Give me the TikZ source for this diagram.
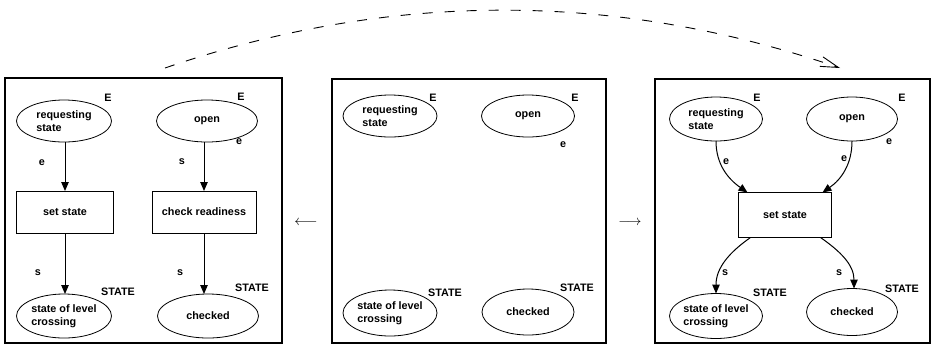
\documentclass[tikz,border=0pt]{standalone}
\usepackage{fontspec}
\newfontfamily\helv{Liberation Sans}
\usetikzlibrary{arrows.meta,shapes.geometric}
\begin{document}
\begin{tikzpicture}[x=1pt,y=-1pt,
  every node/.style={inner sep=0pt,outer sep=0pt,font=\helv\bfseries\fontsize{10.8}{12.5}\selectfont},
  place/.style={draw,ellipse,line width=0.8pt,align=left,minimum width=95pt,minimum height=42pt},
  trans/.style={draw,rectangle,line width=0.8pt,align=center,minimum height=42pt},
  panel/.style={draw,line width=1.8pt},
  flow/.style={line width=1pt,-{Triangle[length=9pt,width=7.5pt]}},
  morph/.style={line width=0.9pt,dash pattern=on 10pt off 12pt,
    -{Straight Barb[length=18pt,width=10pt,line width=0.9pt]}},
  tag/.style={},
  between/.style={font=\fontsize{14}{16}\selectfont}
]
\useasboundingbox (0,0) rectangle (933,346);

% three panels
\draw[panel] (5,78) rectangle (282,343);
\draw[panel] (332,79) rectangle (606,343);
\draw[panel] (655,79) rectangle (930,343);

% ---------- left panel ----------
\node[place] (r1) at (64,121) {requesting\\state};
\node[place,minimum width=101pt] (o1) at (207,121) {open};
\node[trans,minimum width=97pt] (b1) at (65,212) {set state};
\node[trans,minimum width=104pt] (b2) at (204,212) {check readiness};
\node[place,minimum height=44pt] (s1) at (64,316) {state of level\\crossing};
\node[place,minimum width=101pt,minimum height=44pt] (c1) at (208,316) {checked};
\node[tag] at (108,98) {E};
\node[tag] at (241,97) {E};
\node[tag] at (239,142) {e};
\node[tag] at (118,292) {STATE};
\node[tag] at (252,288) {STATE};
\node[tag] at (42,163) {e};
\node[tag] at (182,162) {s};
\node[tag] at (38,273) {s};
\node[tag] at (180,273) {s};
\draw[flow] (r1.south -| b1.north) -- (b1.north);
\draw[flow] (o1.south -| b2.north) -- (b2.north);
\draw[flow] (b1.south) -- (b1.south |- s1.north);
\draw[flow] (b2.south) -- (b2.south |- c1.north);

% ---------- middle panel ----------
\node[place,minimum width=94pt] (r2) at (390,116) {requesting\\state};
\node[place,minimum width=93pt] (o2) at (528,116) {open};
\node[place,minimum width=94pt,minimum height=46pt] (s2) at (390,313) {state of level\\crossing};
\node[place,minimum width=92pt,minimum height=46pt] (c2) at (528,312) {checked};
\node[tag] at (433,98) {E};
\node[tag] at (575,98) {E};
\node[tag] at (563,145) {e};
\node[tag] at (445,293) {STATE};
\node[tag] at (577,288) {STATE};

% ---------- right panel ----------
\node[place,minimum width=93pt,minimum height=44pt] (r3) at (716,119) {requesting\\state};
\node[place,minimum width=91pt,minimum height=44pt] (o3) at (852,119) {open};
\node[trans,minimum width=93pt,minimum height=45pt] (b3) at (785,215) {set state};
\node[place,minimum width=93pt,minimum height=45pt] (s3) at (716,316) {state of level\\crossing};
\node[place,minimum width=91pt,minimum height=47pt] (c3) at (852,312) {checked};
\node[tag] at (757,98) {E};
\node[tag] at (902,98) {E};
\node[tag] at (889,142) {e};
\node[tag] at (770,293) {STATE};
\node[tag] at (902,289) {STATE};
\node[tag] at (726,162) {e};
\node[tag] at (844,159) {e};
\node[tag] at (725,273) {s};
\node[tag] at (839,273) {s};
\coordinate (b3in1) at ([xshift=9pt]b3.north west);
\coordinate (b3in2) at ([xshift=-9pt]b3.north east);
\coordinate (b3out1) at ([xshift=12pt]b3.south west);
\coordinate (b3out2) at ([xshift=-11pt]b3.south east);
\draw[flow] (r3.south) to[out=-90,in=145] (b3in1);
\draw[flow] (o3.south) to[out=-90,in=35] (b3in2);
\draw[flow] (b3out1) to[out=-145,in=90] (s3.north);
\draw[flow] (b3out2) to[out=-35,in=90] ([xshift=2pt]c3.north);

% ---------- arrows between panels ----------
\node[between] (la) at (306,223) {$\longleftarrow$};
\node[between] (ra) at (630,223) {$\longrightarrow$};

% ---------- dashed arc from the left panel to the right panel ----------
\coordinate (arcA) at (165,68);
\coordinate (arcB) at (840,68);
\draw[morph] (arcA) .. controls (390,-9) and (615,-9) .. (arcB);
\end{tikzpicture}
\end{document}
